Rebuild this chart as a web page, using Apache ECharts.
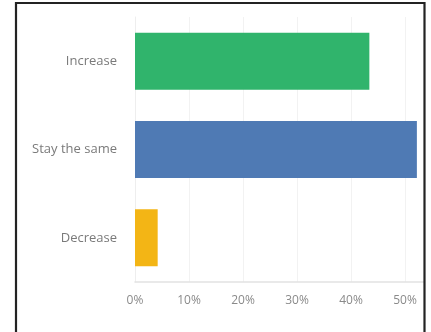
<!DOCTYPE html>
<html>
<head>
<meta charset="utf-8">
<script src="https://cdn.jsdelivr.net/npm/echarts@6/dist/echarts.min.js"></script>
<style>
  html, body { margin: 0; padding: 0; background: #fff; }
  #chart { width: 431px; height: 332px; }
</style>
</head>
<body>
<div id="chart"></div>
<script>
// Survey answers, top to bottom
const categories = ['Increase', 'Stay the same', 'Decrease'];
const shares = [43.4, 52.2, 4.2];
const barColors = ['#30b46c', '#4f7ab4', '#f3b515'];
const tickValues = [0, 10, 20, 30, 40, 50];

const chart = echarts.init(document.getElementById('chart'));

chart.setOption({
  backgroundColor: '#ffffff',
  animation: false,
  graphic: [
    {
      // blank margin to the right of the frame
      type: 'rect',
      shape: { x: 425, y: 0, width: 10, height: 332 },
      style: { fill: '#ffffff' },
      z: 99
    },
    {
      type: 'rect',
      shape: { x: 16, y: 3, width: 408.5, height: 340 },
      style: { fill: 'none', stroke: '#232323', lineWidth: 2.2 },
      z: 100
    }
  ],
  grid: { left: 135, top: 17, bottom: 50, width: 324, outerBoundsMode: 'none', containLabel: false },
  xAxis: {
    type: 'value',
    min: 0,
    max: 60,
    interval: 10,
    axisLine: { show: true, lineStyle: { color: '#e2e2e2', width: 1.5 } },
    axisTick: { show: false },
    splitLine: { show: true, lineStyle: { color: '#f2f2f2' } },
    axisLabel: {
      color: '#8a8a8a',
      fontSize: 12,
      fontFamily: '"Open Sans", sans-serif',
      margin: 13,
      formatter: v => tickValues.includes(v) ? v + '%' : ''
    }
  },
  yAxis: {
    type: 'category',
    inverse: true,
    data: categories,
    axisLine: { show: true, lineStyle: { color: '#eeeeee' } },
    axisTick: { show: false },
    axisLabel: {
      color: '#7a7a7a',
      fontSize: 13,
      fontFamily: '"Open Sans", sans-serif',
      margin: 18
    }
  },
  series: [{
    type: 'bar',
    barWidth: 57,
    data: shares.map((v, i) => ({ value: v, itemStyle: { color: barColors[i] } }))
  }]
});
</script>
</body>
</html>
